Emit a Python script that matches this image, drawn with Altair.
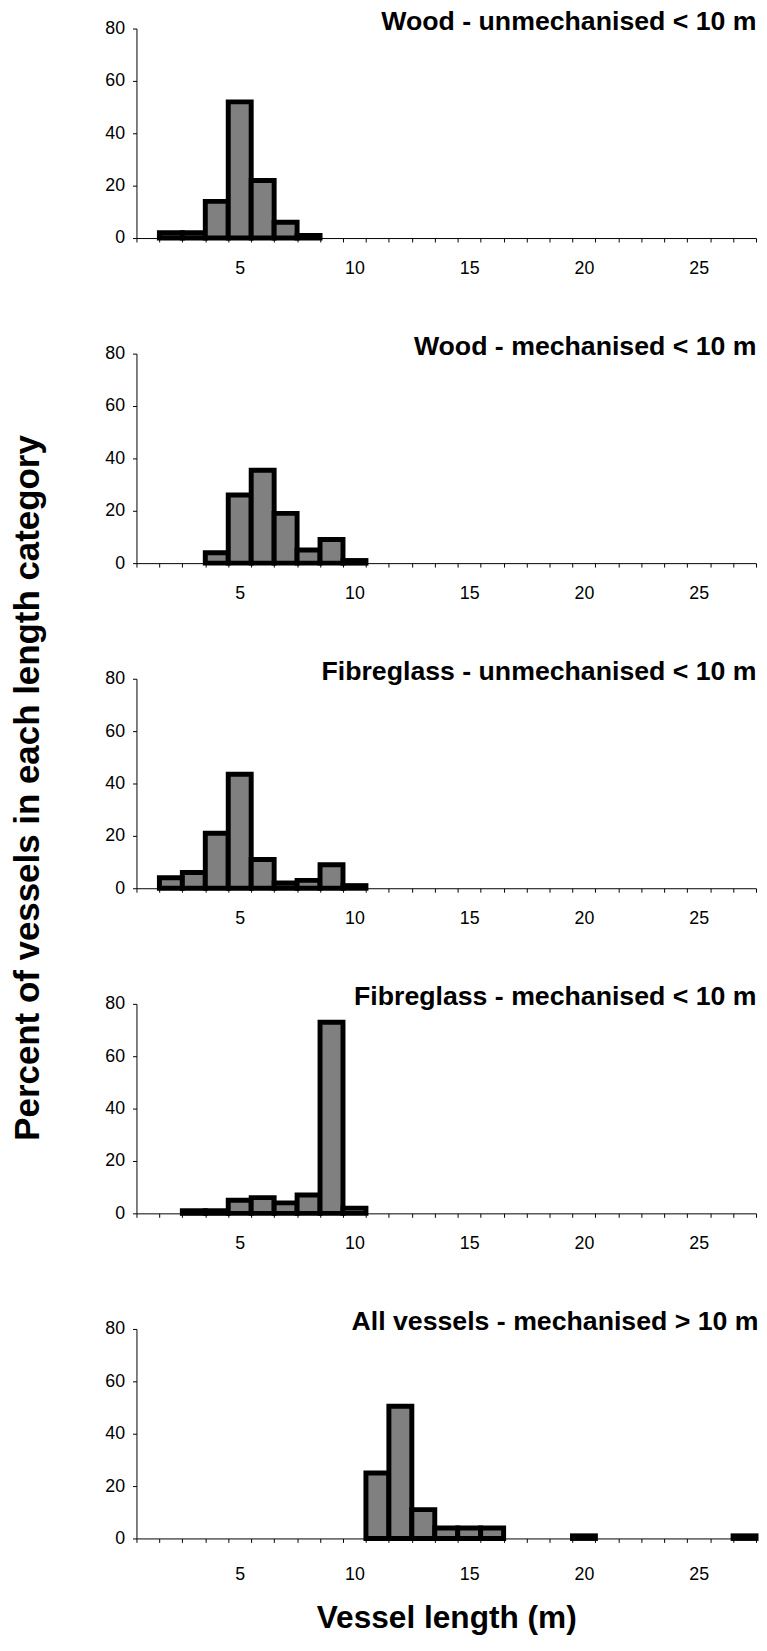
import altair as alt
import pandas as pd

# ---------------- data ----------------
lengths = list(range(1, 28))

titles = [
    "Wood - unmechanised < 10 m",
    "Wood - mechanised < 10 m",
    "Fibreglass - unmechanised < 10 m",
    "Fibreglass - mechanised < 10 m",
    "All vessels - mechanised > 10 m",
]

p1_len = [2, 3, 4, 5, 6, 7, 8]
p1_pct = [2, 2, 14, 52, 22, 6, 1]

p2_len = [4, 5, 6, 7, 8, 9, 10]
p2_pct = [4, 26, 35.5, 19, 5, 9, 1]

p3_len = [2, 3, 4, 5, 6, 7, 8, 9, 10]
p3_pct = [4, 6, 21, 43.5, 11, 2, 3, 9, 1]

p4_len = [3, 4, 5, 6, 7, 8, 9, 10]
p4_pct = [1, 1, 5, 6, 4, 7, 73, 2]

p5_len = [11, 12, 13, 14, 15, 16, 20, 27]
p5_pct = [25, 50.5, 11, 4, 4, 4, 1, 1]

y_ticks = [0, 20, 40, 60, 80]

series = [
    (p1_len, p1_pct),
    (p2_len, p2_pct),
    (p3_len, p3_pct),
    (p4_len, p4_pct),
    (p5_len, p5_pct),
]

FONT = "Liberation Sans"
W, H = 627, 212


def panel(title, lens, pcts, last=False):
    df = pd.DataFrame({"length": lens, "pct": pcts})
    x_axis = alt.Axis(
        tickBand="extent",
        labelExpr="datum.value % 5 == 0 ? datum.label : ''",
        labelAngle=0,
        tickSize=4,
        tickColor="black",
        domainColor="black",
        domainWidth=1,
        labelFont=FONT,
        labelFontSize=18,
        labelColor="black",
        labelPadding=24 if last else 18,
        title="Vessel length (m)" if last else None,
        titleFont=FONT,
        titleFontSize=32,
        titleFontWeight="bold",
        titleColor="black",
        titlePadding=19,
    )
    y_axis = alt.Axis(
        values=y_ticks,
        grid=False,
        tickSize=4,
        tickColor="black",
        domainColor="black",
        domainWidth=1,
        labelFont=FONT,
        labelFontSize=18,
        labelColor="black",
        labelPadding=8,
        title=None,
    )
    return (
        alt.Chart(df)
        .mark_bar(fill="#808080", stroke="black", strokeWidth=5)
        .encode(
            x=alt.X(
                "length:O",
                scale=alt.Scale(domain=lengths, paddingInner=0, paddingOuter=0),
                axis=x_axis,
            ),
            y=alt.Y("pct:Q", scale=alt.Scale(domain=[0, 80], nice=False), axis=y_axis),
        )
        .properties(
            width=W,
            height=H,
            title=alt.TitleParams(
                title,
                anchor="end",
                font=FONT,
                fontSize=27,
                fontWeight="bold",
                color="black",
                baseline="alphabetic",
                offset=0,
                dy=37,
            ),
        )
    )


panels = [
    panel(t, l, p, last=(i == 4)) for i, (t, (l, p)) in enumerate(zip(titles, series))
]

chart = (
    alt.vconcat(*panels, spacing=56)
    .properties(
        title=alt.TitleParams(
            "Percent of vessels in each length category",
            orient="left",
            anchor="middle",
            font=FONT,
            fontSize=35.3,
            fontWeight="bold",
            color="black",
            offset=59,
            dx=33,
        ),
        padding={"left": 3, "top": -10, "right": 0, "bottom": 0},
    )
    .configure_view(stroke=None)
)

chart.save("out.html", embed_options={"renderer": "svg", "actions": False})
